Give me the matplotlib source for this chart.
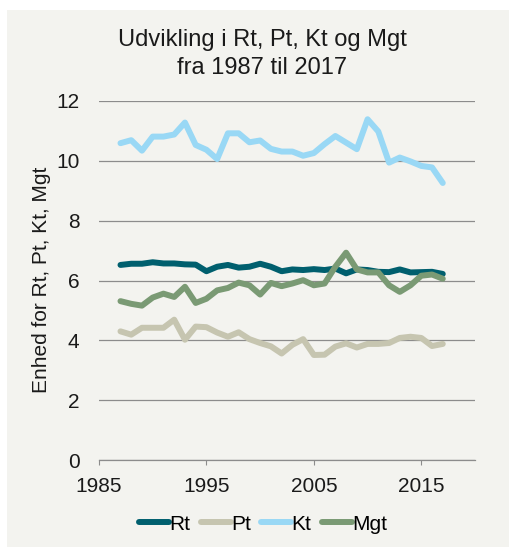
import matplotlib
matplotlib.use("Agg")
import matplotlib.pyplot as plt
from matplotlib.patches import Rectangle

plt.rcParams['font.family'] = ['Liberation Sans', 'DejaVu Sans']

years = list(range(1987, 2018))
rt = [6.52, 6.56, 6.56, 6.61, 6.57, 6.57, 6.54, 6.53, 6.31, 6.46, 6.52, 6.43, 6.46, 6.56, 6.46,
      6.31, 6.37, 6.35, 6.38, 6.35, 6.40, 6.24, 6.37, 6.35, 6.29, 6.28, 6.37, 6.27, 6.28, 6.29, 6.22]
pt = [4.30, 4.19, 4.42, 4.42, 4.42, 4.69, 4.02, 4.46, 4.44, 4.26, 4.12, 4.27, 4.04, 3.91, 3.80,
      3.56, 3.85, 4.04, 3.51, 3.52, 3.79, 3.90, 3.76, 3.88, 3.88, 3.91, 4.08, 4.12, 4.08, 3.81, 3.88]
kt = [10.59, 10.69, 10.34, 10.81, 10.81, 10.88, 11.28, 10.53, 10.37, 10.06, 10.92, 10.92, 10.62,
      10.68, 10.40, 10.31, 10.31, 10.17, 10.26, 10.56, 10.83, 10.61, 10.39, 11.39, 10.98, 9.94,
      10.11, 9.98, 9.83, 9.78, 9.26]
mgt = [5.31, 5.22, 5.16, 5.43, 5.56, 5.45, 5.79, 5.25, 5.39, 5.67, 5.75, 5.93, 5.84, 5.53, 5.92,
       5.81, 5.90, 6.01, 5.84, 5.90, 6.46, 6.93, 6.37, 6.27, 6.27, 5.84, 5.62, 5.84, 6.16, 6.20, 6.06]
series_names = ["Rt", "Pt", "Kt", "Mgt"]
colors = ["#005f6e", "#c6c5b0", "#99d8f5", "#7a9a74"]
xticks = [1985, 1995, 2005, 2015]
yticks = [0, 2, 4, 6, 8, 10, 12]

bg = "#f3f3ef"
fig = plt.figure(figsize=(5.10, 5.47), dpi=100)
fig.patch.set_facecolor("white")
fig.patches.append(Rectangle((7/510, 0), 1 - 7/510, 1 - 10/547, transform=fig.transFigure,
                             facecolor=bg, edgecolor="none", zorder=-10))

ax = fig.add_axes([99/510, 1 - 460/547, (475 - 99)/510, (460 - 101)/547])
ax.set_facecolor(bg)
for name, vals, c in zip(series_names, [rt, pt, kt, mgt], colors):
    ax.plot(years, vals, color=c, lw=4.3, solid_capstyle="round", solid_joinstyle="round", label=name)

ax.set_xlim(1985, 2020)
ax.set_ylim(0, 12)
ax.set_xticks(xticks)
ax.set_yticks(yticks)
ax.grid(axis="y", color="#8c8c8c", lw=0.9)
ax.set_axisbelow(True)
for s in ["top", "right", "left"]:
    ax.spines[s].set_visible(False)
ax.spines["bottom"].set_color("#8c8c8c")
ax.spines["bottom"].set_linewidth(0.9)
ax.tick_params(axis="y", length=0, labelsize=15, pad=14, colors="#1a1a1a")
ax.tick_params(axis="x", length=3.5, color="#8c8c8c", labelsize=15, labelcolor="#1a1a1a", pad=9)

fig.text(42/510, 1 - 280/547, "Enhed for Rt, Pt, Kt, Mgt", rotation=90, ha="center", va="center",
         fontsize=15, color="#1a1a1a")

fig.text(262/510, 1 - 54/547, "Udvikling i Rt, Pt, Kt og Mgt\nfra 1987 til 2017",
         ha="center", va="center", fontsize=17, linespacing=1.3, color="#1a1a1a")

leg = fig.legend(loc="center", bbox_to_anchor=(263/510, 1 - 524/547), ncol=4, frameon=False,
                 fontsize=15, handlelength=1.45, handletextpad=0.0, columnspacing=0.5)
for h in leg.get_lines():
    h.set_linewidth(4.3)
    h.set_solid_capstyle("round")

fig.savefig("out.png", dpi=100, facecolor=fig.get_facecolor())
